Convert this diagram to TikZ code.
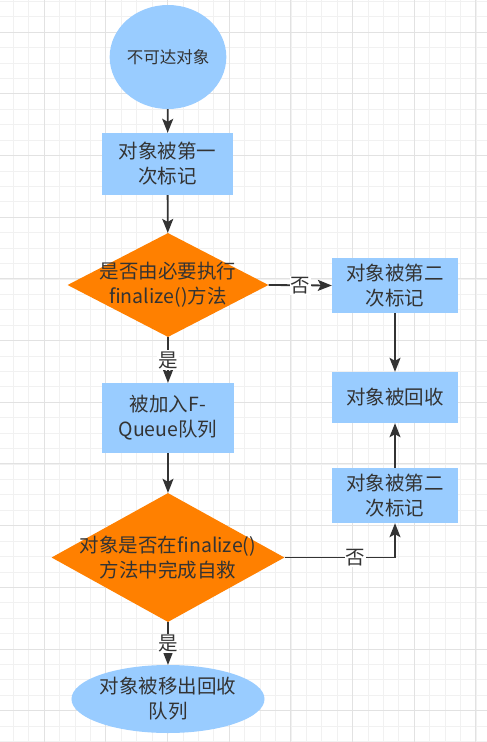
\documentclass[tikz,border=0pt]{standalone}
\usepackage{fontspec}
\newfontfamily\cjk{Noto Sans CJK SC}
\usetikzlibrary{arrows.meta,shapes.geometric}
\definecolor{ink}{HTML}{333333}
\definecolor{skyfill}{HTML}{99CCFF}
\definecolor{orangefill}{HTML}{FF8000}
\definecolor{gridminor}{HTML}{F1F1F1}
\definecolor{gridmajor}{HTML}{E2E2E2}
\tikzset{>={Stealth[length=14pt,width=11pt,inset=3pt]},
  every node/.style={font=\cjk\fontsize{19.5}{25}\selectfont,text=ink},
  flow/.style={->,draw=ink,line width=1.8pt},
  stepbox/.style={rectangle,fill=skyfill,align=center,inner sep=0pt},
  blob/.style={ellipse,fill=skyfill,align=center,inner sep=0pt},
  choice/.style={diamond,fill=orangefill,inner sep=0pt},
  choicetext/.style={align=center},
  edgelabel/.style={fill=white,inner sep=1pt}}
\begin{document}
\begin{tikzpicture}[x=1pt,y=-1pt]
\useasboundingbox(0,0)rectangle(487,742);
\fill[white](0,0)rectangle(487,742);
% background grid
\foreach \i in {0,...,31}{\draw[gridminor,line width=1pt](13.46+15.42*\i,0)--(13.46+15.42*\i,742);}
\foreach \i in {0,...,48}{\draw[gridminor,line width=1pt](0,1.46+15.42*\i)--(487,1.46+15.42*\i);}
\foreach \i in {0,...,7}{\draw[gridmajor,line width=1pt](44.3+61.67*\i,0)--(44.3+61.67*\i,742);}
\foreach \i in {0,...,11}{\draw[gridmajor,line width=1pt](0,32.3+61.67*\i)--(487,32.3+61.67*\i);}
% left column
\node[blob,minimum width=116,minimum height=104,font=\cjk\fontsize{16.5}{20}\selectfont](start)at(168,57){不可达对象};
\node[stepbox,minimum width=131,minimum height=62](mark1)at(167.5,164){对象被第一\\次标记};
\node[choice,minimum width=201,minimum height=104,label={[choicetext]center:是否由必要执行\\finalize()方法}](need)at(168,285){};
\node[stepbox,minimum width=132,minimum height=70](fqueue)at(168,418){被加入F-\\Queue队列};
\node[choice,minimum width=233,minimum height=129,label={[choicetext]center:对象是否在finalize()\\方法中完成自救}](rescue)at(168,557.5){};
\node[blob,minimum width=179,minimum height=68](removed)at(168,699){对象被移出回收\\队列};
% right column
\node[stepbox,minimum width=126,minimum height=55](mark2a)at(395,285.5){对象被第二\\次标记};
\node[stepbox,minimum width=126,minimum height=51](collect)at(395,397.5){对象被回收};
\node[stepbox,minimum width=126,minimum height=55](mark2b)at(395,495.5){对象被第二\\次标记};
% connectors
\draw[flow](start)--(mark1);
\draw[flow](mark1)--(need);
\draw[flow](need.east)--node[edgelabel]{否}(mark2a.west);
\draw[flow](mark2a)--(collect);
\draw[flow](need.south)--node[edgelabel]{是}(fqueue.north);
\draw[flow](fqueue)--(rescue);
\draw[flow](rescue.east)-|node[edgelabel,pos=0.32]{否}(mark2b.south);
\draw[flow](mark2b)--(collect);
\draw[flow](rescue.south)--node[edgelabel]{是}(removed.north);
\end{tikzpicture}
\end{document}
